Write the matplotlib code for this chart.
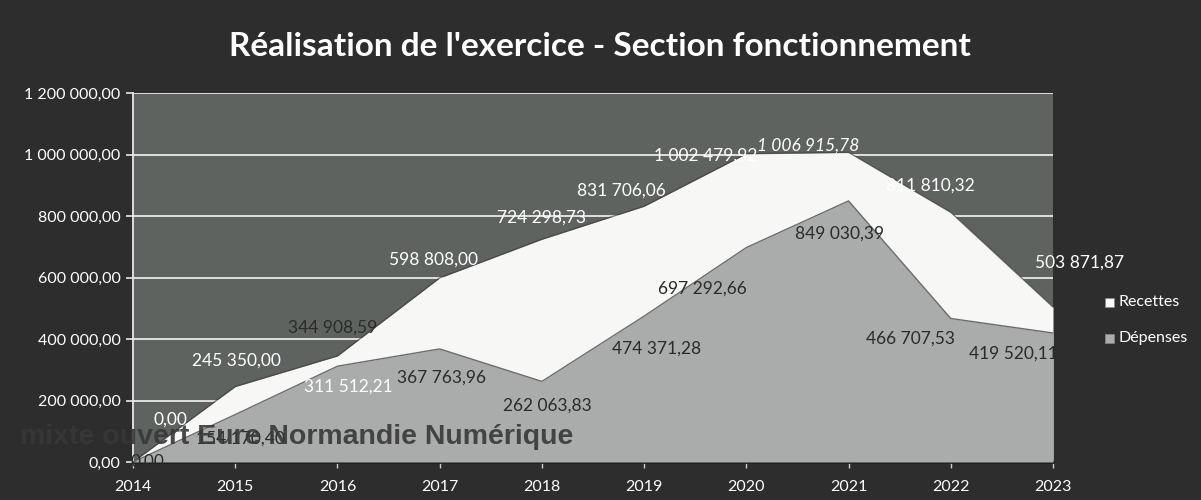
import matplotlib
matplotlib.use("Agg")
import matplotlib.pyplot as plt
from matplotlib.ticker import FuncFormatter, MultipleLocator
from matplotlib.patches import Rectangle

years = [2014, 2015, 2016, 2017, 2018, 2019, 2020, 2021, 2022, 2023]
recettes = [0.00, 245350.00, 344908.59, 598808.00, 724298.73, 831706.06,
            1002479.92, 1006915.78, 811810.32, 503871.87]
depenses = [0.00, 154170.40, 311512.21, 367763.96, 262063.83, 474371.28,
            697292.66, 849030.39, 466707.53, 419520.11]
title = "Réalisation de l'exercice - Section fonctionnement"
series_names = ["Recettes", "Dépenses"]
watermark = "mixte ouvert Eure Normandie Numérique"

# label offsets in pixels (dx, dy) relative to data point
rec_off = [(37, 42), (1, 26), (-5, 28), (-6, 18), (0, 22), (-23, 16),
           (-41, -2), (-40, 7), (-20, 27), (27, 44)]
dep_off = [(14, 0), (5, -24), (11, -20), (2, -29), (5, -24), (12, -32),
           (-44, -41), (-9, -33), (-40, -20), (-40, -21)]
rec_col = ["white", "white", "#2b2b2b", "white", "white", "white", "white",
           "white", "white", "white"]
dep_col = ["#2b2b2b", "#2b2b2b", "white", "#2b2b2b", "#2b2b2b", "#2b2b2b",
           "#2b2b2b", "#2b2b2b", "#2b2b2b", "#2b2b2b"]

FONT = "Lato"
BG = "#2d2d2d"
PLOT_BG = "#5e6360"
REC_C = "#f7f7f5"
DEP_C = "#a9acaa"

def fr(v, pos=None):
    s = f"{v:,.2f}"
    return s.replace(",", " ").replace(".", ",")

fig = plt.figure(figsize=(12.01, 5.0), dpi=100, facecolor=BG)
ax = fig.add_axes([133/1201, 1-462/500, 920/1201, 369/500])
ax.set_facecolor(PLOT_BG)

ax.set_xlim(years[0], years[-1])
ax.set_ylim(0, 1200000)
ax.yaxis.set_major_locator(MultipleLocator(200000))
ax.yaxis.set_major_formatter(FuncFormatter(fr))
ax.set_xticks(years)
ax.set_xticklabels([str(y) for y in years])
ax.grid(axis="y", color="#e8e8e8", linewidth=1.3, zorder=1)
ax.set_axisbelow(True)

ax.fill_between(years, recettes, 0, color=REC_C, zorder=2, linewidth=0)
ax.plot(years, recettes, color="#3a3a3a", linewidth=1.0, zorder=2.5, alpha=0.6)
ax.fill_between(years, depenses, 0, color=DEP_C, zorder=3, linewidth=0)
ax.plot(years, depenses, color="#6a6d6b", linewidth=1.0, zorder=3.5)

for s in ["top", "right"]:
    ax.spines[s].set_visible(False)
ax.spines["left"].set_color("#e8e8e8")
ax.spines["left"].set_linewidth(1.3)
ax.spines["bottom"].set_color("#1e1e1e")
ax.spines["bottom"].set_linewidth(2)
ax.tick_params(axis="y", colors="#e8e8e8", labelcolor="white", labelsize=11.5,
               length=5, width=1.2, pad=4)
ax.tick_params(axis="x", colors="#cccccc", labelcolor="white", labelsize=11.5,
               length=4, width=1, pad=9)
for lab in ax.get_xticklabels() + ax.get_yticklabels():
    lab.set_fontfamily(FONT)

for i, y in enumerate(years):
    ax.annotate(fr(recettes[i]), (y, recettes[i]), xytext=rec_off[i],
                textcoords="offset pixels", ha="center", va="center",
                fontsize=12.5, color=rec_col[i], family=FONT, zorder=6,
                style="italic" if i == 7 else "normal", annotation_clip=False)
    ax.annotate(fr(depenses[i]), (y, depenses[i]), xytext=dep_off[i],
                textcoords="offset pixels", ha="center", va="center",
                fontsize=12.5, color=dep_col[i], family=FONT, zorder=6,
                annotation_clip=False)

fig.text(600/1201, 1-47/500, title, ha="center", va="center", color="white",
         fontsize=24, fontweight="bold", family=FONT)

# legend
for j, (name, c) in enumerate(zip(series_names, [REC_C, DEP_C])):
    yc = 1 - (302 + 36*j)/500
    fig.patches.append(Rectangle((1105/1201, yc - 4.5/500), 9/1201, 9/500,
                                 transform=fig.transFigure, facecolor=c,
                                 edgecolor="#888888", linewidth=0.5))
    fig.text(1118/1201, yc, name, ha="left", va="center", color="white",
             fontsize=11.5, family=FONT)

fig.text(20/1201, 1-437/500, watermark, ha="left", va="center",
         color="#383838", alpha=0.9, fontsize=20.5, fontweight="bold",
         family="Liberation Sans", zorder=10)

fig.savefig("out.png", dpi=100, facecolor=BG)
